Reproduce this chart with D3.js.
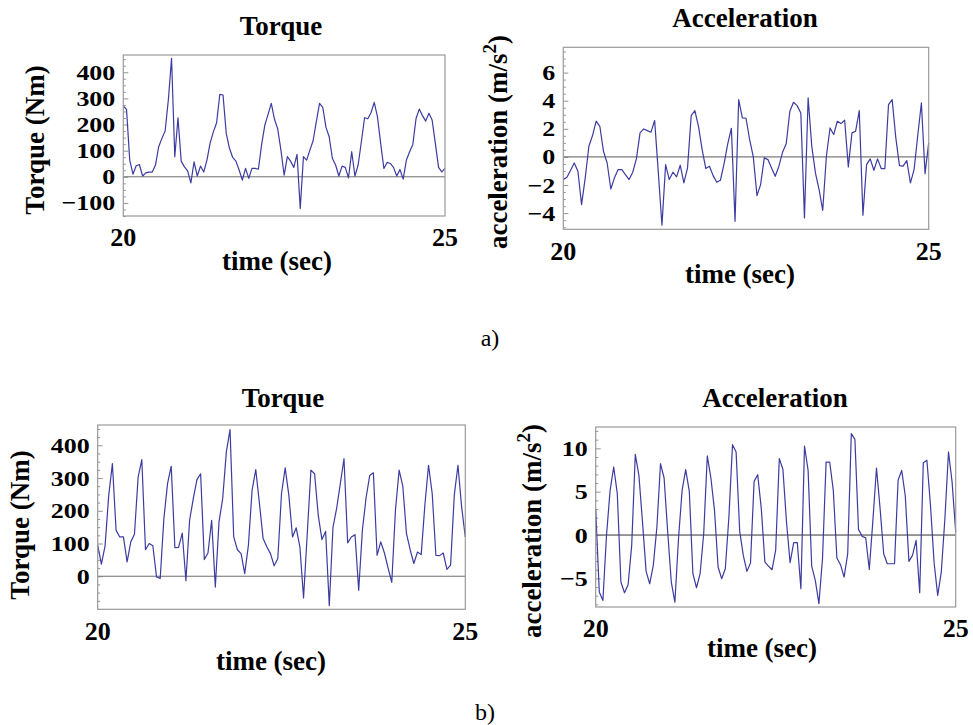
<!DOCTYPE html>
<html>
<head>
<meta charset="utf-8">
<script src="https://cdn.jsdelivr.net/npm/d3@7"></script>
<style>
  html, body { margin: 0; padding: 0; background: #fff; }
  svg { display: block; }
  text { font-family: "Liberation Serif", "Times New Roman", serif; fill: #000; }
</style>
</head>
<body>
<svg id="chart" width="973" height="725"></svg>
<script>
// Time grid: one sample every 0.05 s from 20 s to 25 s
const sampleCount = 101;
const tStart = 20, tEnd = 25;

// a) torque (Nm)
const torqueA = [
  271, 258, 64, 10, 42, 47, 3, 15, 18, 18,
  45, 115, 147, 175, 294, 453, 77, 226, 60, 38,
  23, -23, 57, 3, 41, 18, 64, 130, 172, 207,
  315, 313, 166, 109, 74, 60, 26, -13, 32, -6,
  32, 32, 29, 124, 198, 239, 281, 220, 183, 102,
  6, 77, 60, 36, 86, -121, 77, 64, 102, 138,
  211, 281, 266, 189, 153, 70, 45, 3, 41, 36,
  -4, 96, 3, 45, 134, 226, 222, 245, 285, 230,
  128, 32, 55, 51, 36, 3, 28, -9, 64, 96,
  124, 223, 259, 234, 213, 243, 217, 128, 36, 19,
  32
];

// a) acceleration (m/s^2)
const accelA = [
  -1.61, -1.45, -0.95, -0.43, -1.02, -3.39, -1.49, 0.76, 1.52, 2.54,
  2.18, 0.40, -0.43, -2.28, -1.49, -0.90, -0.90, -1.26, -1.61, -1.09,
  -0.14, 1.71, 1.99, 1.87, 1.76, 2.59, -1.10, -4.86, -0.55, -1.61,
  -1.09, -1.42, -0.59, -1.85, -0.78, 2.94, 3.30, 2.18, 0.52, -0.83,
  -0.66, -1.33, -1.80, -1.66, -0.47, 0.93, 2.04, -4.58, 4.08, 2.78,
  2.75, 1.23, 0.00, -2.75, -1.97, -0.07, -0.19, -0.78, -1.38, -0.66,
  0.33, 0.93, 3.25, 3.89, 3.65, 3.13, -4.34, 4.20, 0.76, -1.14,
  -2.32, -3.80, 0.05, 2.06, 1.59, 2.54, 2.37, 2.61, -0.71, 1.71,
  1.83, 3.30, -4.15, -0.55, -0.14, -0.95, -0.14, -0.83, -0.83, 3.72,
  4.08, 1.35, -0.62, -0.66, -0.26, -1.85, -0.90, 1.52, 3.84, -1.19,
  1.00
];

// b) torque (Nm)
const torqueB = [
  95, 37, 92, 247, 344, 140, 120, 120, 44, 105,
  128, 303, 356, 81, 100, 93, -2, -7, 176, 283,
  336, 87, 88, 132, -14, 171, 237, 295, 313, 51,
  71, 171, -33, 166, 237, 380, 448, 120, 81, 69,
  8, 95, 263, 326, 222, 115, 90, 69, 32, 54,
  252, 331, 247, 120, 148, 90, -66, 129, 324, 313,
  186, 112, 137, -90, 149, 207, 283, 359, 102, 120,
  127, -43, 140, 239, 308, 316, 64, 105, 71, 25,
  -19, 202, 324, 275, 130, 81, 39, 74, 66, 217,
  339, 252, 64, 63, 71, 21, 34, 247, 339, 212,
  120
];

// b) acceleration (m/s^2)
const accelB = [
  2.96, -6.58, -7.54, -0.04, 5.15, 7.85, 4.77, -5.42, -6.65, -5.73,
  -1.19, 9.31, 6.88, 1.50, -4.19, -5.62, -3.50, 0.92, 8.23, 6.58,
  0.35, -5.42, -7.73, -0.42, 5.15, 7.54, 5.04, -4.46, -6.08, -4.46,
  0.15, 9.12, 6.58, 2.85, -3.69, -5.04, -3.88, 2.08, 10.42, 9.58,
  0.42, -2.35, -4.19, -3.23, 6.19, 6.96, 3.04, -3.12, -3.58, -4.00,
  -1.70, 8.81, 7.58, 1.50, -3.19, -0.88, -0.88, -6.19, 10.27, 7.46,
  -3.58, -5.23, -7.92, -2.73, 8.42, 8.42, 5.15, -2.65, -3.42, -4.85,
  -2.15, 11.69, 11.04, 0.65, -0.15, -0.31, -3.96, 1.69, 7.73, 3.04,
  -2.15, -3.31, -3.31, -3.31, 6.31, 7.46, 4.50, -3.04, -2.35, -0.62,
  -6.65, 8.35, 8.62, 3.40, -3.20, -6.96, -4.27, 1.90, 9.58, 6.10,
  0.35
];

// Tick labels
const torqueTicksA = [-100, 0, 100, 200, 300, 400];
const accelTicksA = [-4, -2, 0, 2, 4, 6];
const torqueTicksB = [0, 100, 200, 300, 400];
const accelTicksB = [-5, 0, 5, 10];
const timeTicks = [20, 25];

const times = d3.range(sampleCount).map(i => tStart + i * (tEnd - tStart) / (sampleCount - 1));

const svg = d3.select("#chart");

const LINE_COLOR = "#3c3ca0";
const FRAME_COLOR = "#9a9a9a";

const fmt = v => (v < 0 ? "\u2212" + Math.abs(v) : String(v));

function panel(cfg) {
  const g = svg.append("g");
  const x = d3.scaleLinear().domain([tStart, tEnd]).range([cfg.left, cfg.right]);
  const y = d3.scaleLinear().domain(cfg.yDomain).range([cfg.bottom, cfg.top]);

  // zero reference line
  g.append("line")
    .attr("x1", cfg.left).attr("x2", cfg.right)
    .attr("y1", y(0)).attr("y2", y(0))
    .attr("stroke", cfg.zeroColor).attr("stroke-width", 1);

  // left axis ticks (major + minor), drawn inward
  const yAxis = d3.axisRight(y).tickValues(cfg.ticks).tickSize(5).tickFormat("");
  const minor = d3.range(Math.ceil(cfg.yDomain[0] / cfg.minorStep) * cfg.minorStep,
                         cfg.yDomain[1], cfg.minorStep)
    .filter(v => !cfg.ticks.some(t => Math.abs(t - v) < 1e-9));
  const yMinor = d3.axisRight(y).tickValues(minor).tickSize(2.5).tickFormat("");
  [yAxis, yMinor].forEach(ax => {
    const a = g.append("g").attr("transform", `translate(${cfg.left},0)`).call(ax);
    a.select(".domain").remove();
    a.selectAll("line").attr("stroke", "#777").attr("stroke-width", 0.8);
  });

  // data line
  const line = d3.line().x((d, i) => x(times[i])).y(d => y(d));
  g.append("path")
    .datum(cfg.values)
    .attr("d", line)
    .attr("fill", "none")
    .attr("stroke", LINE_COLOR)
    .attr("stroke-width", 1.2)
    .attr("stroke-linejoin", "round");

  // frame
  g.append("rect")
    .attr("x", cfg.left).attr("y", cfg.top)
    .attr("width", cfg.right - cfg.left).attr("height", cfg.bottom - cfg.top)
    .attr("fill", "none").attr("stroke", FRAME_COLOR).attr("stroke-width", 1.2);

  // y tick labels (slightly widened bold digits)
  g.selectAll(".ylab").data(cfg.ticks).join("text")
    .attr("transform", d => `translate(${cfg.left - 8},${y(d)}) scale(1.18,1)`)
    .attr("dy", "0.34em")
    .attr("text-anchor", "end")
    .attr("font-size", 22).attr("font-weight", "bold")
    .text(fmt);

  // x tick labels
  g.selectAll(".xlab").data(timeTicks).join("text")
    .attr("x", d => x(d))
    .attr("y", cfg.xTickY)
    .attr("text-anchor", "middle")
    .attr("font-size", 26).attr("font-weight", "bold")
    .text(d => d);

  // title
  g.append("text")
    .attr("x", cfg.titleX).attr("y", cfg.titleY)
    .attr("text-anchor", "middle")
    .attr("font-size", 27).attr("font-weight", "bold")
    .text(cfg.title);

  // x axis label
  g.append("text")
    .attr("x", cfg.xLabelX).attr("y", cfg.xLabelY)
    .attr("text-anchor", "middle")
    .attr("font-size", 27).attr("font-weight", "bold")
    .text("time (sec)");

  // y axis label (rotated)
  const yl = g.append("text")
    .attr("transform", `translate(${cfg.yLabelX},${cfg.yLabelY}) rotate(-90)`)
    .attr("text-anchor", "middle")
    .attr("font-size", 27).attr("font-weight", "bold");
  if (cfg.accel) {
    yl.append("tspan").text("acceleration (m/s");
    yl.append("tspan").attr("dy", -11).attr("font-size", 19).text("2");
    yl.append("tspan").attr("dy", 11).text(")");
  } else {
    yl.text("Torque (Nm)");
  }
}

panel({
  values: torqueA, ticks: torqueTicksA, minorStep: 25, yDomain: [-150, 466],
  left: 123.3, right: 445, top: 55, bottom: 216, zeroColor: "#6e6e6e",
  title: "Torque", titleX: 281, titleY: 35,
  xTickY: 246, xLabelX: 277, xLabelY: 270,
  yLabelX: 44, yLabelY: 140, accel: false
});

panel({
  values: accelA, ticks: accelTicksA, minorStep: 0.5, yDomain: [-5.15, 7.8],
  left: 563.3, right: 928.7, top: 47.3, bottom: 229.3, zeroColor: "#5a5a5a",
  title: "Acceleration", titleX: 745, titleY: 27,
  xTickY: 260, xLabelX: 740, xLabelY: 283,
  yLabelX: 507, yLabelY: 142, accel: true
});

panel({
  values: torqueB, ticks: torqueTicksB, minorStep: 25, yDomain: [-101, 462],
  left: 97.7, right: 465.3, top: 425, bottom: 609.3, zeroColor: "#6e6e6e",
  title: "Torque", titleX: 283, titleY: 407,
  xTickY: 640, xLabelX: 271, xLabelY: 670,
  yLabelX: 29, yLabelY: 525, accel: false
});

panel({
  values: accelB, ticks: accelTicksB, minorStep: 1, yDomain: [-8.3, 12.46],
  left: 595.7, right: 955.7, top: 427, bottom: 607, zeroColor: "#333333",
  title: "Acceleration", titleX: 775, titleY: 407,
  xTickY: 637, xLabelX: 762, xLabelY: 657,
  yLabelX: 541, yLabelY: 531, accel: true
});

// sub-figure captions
svg.append("text").attr("x", 490).attr("y", 346).attr("text-anchor", "middle")
  .attr("font-size", 24).text("a)");
svg.append("text").attr("x", 485).attr("y", 720).attr("text-anchor", "middle")
  .attr("font-size", 24).text("b)");
</script>
</body>
</html>
